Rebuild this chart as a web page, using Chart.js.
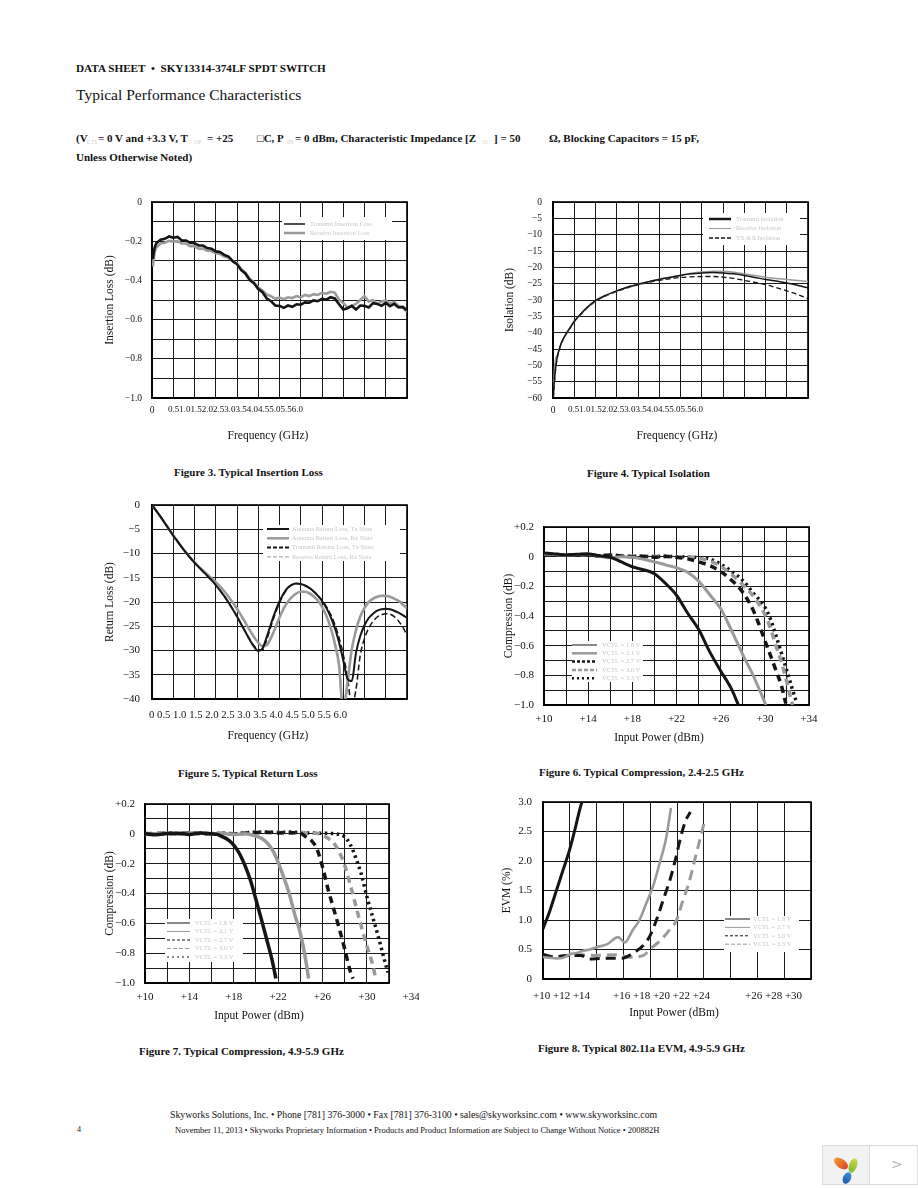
<!DOCTYPE html>
<html>
<head>
<meta charset="utf-8">
<script src="https://cdn.jsdelivr.net/npm/chart.js@4.4.1/dist/chart.umd.min.js"></script>
<style>
body { margin: 0; background: #fff; }
#page { position: relative; width: 918px; height: 1188px; overflow: hidden; font-family: "Liberation Serif", "Times New Roman", serif; color: #111; }
.t { position: absolute; white-space: nowrap; line-height: 1; }
.b { font-weight: bold; }
.sub { position: absolute; color: #d0d0d0; font-size: 6px; line-height: 1; }
canvas { position: absolute; }
</style>
</head>
<body>
<div id="page">
  <div class="t b" style="left:76px;top:63px;font-size:11.2px;">DATA SHEET &nbsp;•&nbsp; SKY13314-374LF SPDT SWITCH</div>
  <div class="t" style="left:76px;top:87px;font-size:15.5px;">Typical Performance Characteristics</div>

  <div class="t b" style="left:76px;top:133px;font-size:11px;">(V</div>
  <div class="sub" style="left:87px;top:139px;">CTL</div>
  <div class="t b" style="left:98px;top:133px;font-size:11px;">= 0 V and +3.3 V, T</div>
  <div class="sub" style="left:194px;top:139px;">OP</div>
  <div class="t b" style="left:207px;top:133px;font-size:11px;">= +25</div>
  <div class="t b" style="left:257px;top:133px;font-size:11px;">□C, P</div>
  <div class="sub" style="left:287px;top:139px;">IN</div>
  <div class="t b" style="left:295px;top:133px;font-size:11px;">= 0 dBm, Characteristic Impedance [Z</div>
  <div class="sub" style="left:483px;top:139px;">O</div>
  <div class="t b" style="left:494px;top:133px;font-size:11px;">] = 50</div>
  <div class="t b" style="left:549px;top:133px;font-size:11px;">Ω, Blocking Capacitors = 15 pF,</div>
  <div class="t b" style="left:76px;top:152px;font-size:11px;">Unless Otherwise Noted)</div>

  <canvas id="fig3"></canvas>
  <canvas id="fig4"></canvas>
  <canvas id="fig5"></canvas>
  <canvas id="fig6"></canvas>
  <canvas id="fig7"></canvas>
  <canvas id="fig8"></canvas>

  <div class="t b" style="left:174px;top:467px;font-size:11px;">Figure 3. Typical Insertion Loss</div>
  <div class="t b" style="left:587px;top:468px;font-size:11px;">Figure 4. Typical Isolation</div>
  <div class="t b" style="left:178px;top:768px;font-size:11px;">Figure 5. Typical Return Loss</div>
  <div class="t b" style="left:539px;top:767px;font-size:11px;">Figure 6. Typical Compression, 2.4-2.5 GHz</div>
  <div class="t b" style="left:139px;top:1046px;font-size:11px;">Figure 7. Typical Compression, 4.9-5.9 GHz</div>
  <div class="t b" style="left:538px;top:1043px;font-size:11px;">Figure 8. Typical 802.11a EVM, 4.9-5.9 GHz</div>

  <div class="t" style="left:170px;top:1110px;font-size:9.8px;">Skyworks Solutions, Inc. • Phone [781] 376-3000 • Fax [781] 376-3100 • sales@skyworksinc.com • www.skyworksinc.com</div>
  <div class="t" style="left:77px;top:1126px;font-size:8px;">4</div>
  <div class="t" style="left:175px;top:1126px;font-size:8.5px;">November 11, 2013 • Skyworks Proprietary Information • Products and Product Information are Subject to Change Without Notice • 200882H</div>

  <div style="position:absolute;left:822px;top:1145px;width:96px;height:40px;border:1px solid #dcdcdc;box-sizing:border-box;background:#fff;">
    <div style="position:absolute;left:0;top:0;width:46px;height:38px;background:#f2f2f2;border-right:1px solid #dcdcdc;">
      <div style="position:absolute;left:10px;top:13px;width:16px;height:9px;border-radius:50%;background:linear-gradient(90deg,#f0a030,#e0402a);transform:rotate(35deg);"></div>
      <div style="position:absolute;left:26px;top:12px;width:8px;height:15px;border-radius:50%;background:linear-gradient(180deg,#c8d850,#80b830);transform:rotate(20deg);"></div>
      <div style="position:absolute;left:20px;top:26px;width:8px;height:12px;border-radius:50%;background:linear-gradient(180deg,#3a90d8,#1a5cb0);transform:rotate(25deg);"></div>
    </div>
    <div style="position:absolute;left:68px;top:10px;font-family:'DejaVu Sans',sans-serif;font-size:14px;color:#b8b8b8;">&gt;</div>
  </div>
</div>

<script>
// Figure 3 - insertion loss
const ilFreq = [0.02,0.06,0.1,0.2,0.3,0.4,0.5,0.6,0.7,0.8,0.9,1.0,1.1,1.2,1.3,1.4,1.5,1.6,1.7,1.8,1.9,2.0,2.1,2.2,2.3,2.4,2.5,2.6,2.7,2.8,2.9,3.0,3.1,3.2,3.3,3.4,3.5,3.6,3.7,3.8,3.9,4.0,4.1,4.2,4.3,4.4,4.5,4.6,4.7,4.8,4.9,5.0,5.1,5.2,5.3,5.4,5.5,5.6,5.7,5.8,5.9,6.0];
const ilTransmit = [-0.29,-0.235,-0.21,-0.192,-0.188,-0.176,-0.182,-0.178,-0.195,-0.196,-0.208,-0.21,-0.222,-0.222,-0.235,-0.238,-0.252,-0.255,-0.27,-0.278,-0.302,-0.318,-0.348,-0.366,-0.398,-0.415,-0.444,-0.46,-0.492,-0.506,-0.528,-0.53,-0.54,-0.528,-0.535,-0.522,-0.524,-0.512,-0.514,-0.502,-0.506,-0.494,-0.498,-0.486,-0.492,-0.522,-0.548,-0.542,-0.53,-0.548,-0.528,-0.53,-0.538,-0.516,-0.52,-0.53,-0.515,-0.532,-0.52,-0.538,-0.535,-0.552];
const ilReceive = [-0.33,-0.255,-0.232,-0.212,-0.208,-0.198,-0.202,-0.2,-0.212,-0.212,-0.225,-0.226,-0.238,-0.238,-0.248,-0.25,-0.262,-0.265,-0.278,-0.284,-0.302,-0.314,-0.342,-0.36,-0.392,-0.41,-0.436,-0.452,-0.472,-0.48,-0.494,-0.488,-0.496,-0.486,-0.49,-0.48,-0.486,-0.474,-0.48,-0.47,-0.474,-0.464,-0.468,-0.458,-0.462,-0.498,-0.515,-0.538,-0.53,-0.52,-0.5,-0.48,-0.508,-0.5,-0.52,-0.508,-0.502,-0.518,-0.51,-0.53,-0.54,-0.56];

// Figure 4 - isolation
const isoFreq = [0.01,0.03,0.06,0.1,0.15,0.2,0.3,0.4,0.5,0.6,0.8,1.0,1.25,1.5,1.75,2.0,2.25,2.5,2.75,3.0,3.25,3.5,3.75,4.0,4.25,4.5,4.75,5.0,5.25,5.5,5.75,6.0];
const isoTransmit = [-59,-55,-51,-47.5,-45,-43,-40.5,-38.5,-36.5,-35,-32.3,-30.2,-28.5,-27.2,-26.1,-25.2,-24.4,-23.7,-23.1,-22.5,-22.0,-21.7,-21.6,-21.7,-22.0,-22.5,-23.1,-23.7,-24.2,-24.8,-25.5,-26.3];
const isoReceive = [-58,-52,-48,-47,-45,-43,-40.6,-38.6,-36.6,-35.1,-32.4,-30.3,-28.6,-27.2,-26.1,-25.2,-24.4,-23.6,-23.0,-22.4,-21.8,-21.4,-21.2,-21.2,-21.5,-22.0,-22.5,-23.0,-23.4,-23.7,-24.0,-24.3];
const isoTxRx = [-60,-56,-51.5,-47.8,-45.2,-43.2,-40.7,-38.7,-36.7,-35.2,-32.5,-30.4,-28.7,-27.4,-26.3,-25.4,-24.6,-24.0,-23.5,-23.1,-22.9,-22.8,-22.8,-23.0,-23.4,-24.0,-24.6,-25.3,-26.2,-27.2,-28.3,-29.6];

// Figure 5 - return loss, 0 to 6 GHz every 0.1 GHz
const rlFreq = [0,0.1,0.2,0.3,0.4,0.5,0.6,0.7,0.8,0.9,1.0,1.1,1.2,1.3,1.4,1.5,1.6,1.7,1.8,1.9,2.0,2.1,2.2,2.3,2.4,2.5,2.6,2.7,2.8,2.9,3.0,3.1,3.2,3.3,3.4,3.5,3.6,3.7,3.8,3.9,4.0,4.1,4.2,4.3,4.4,4.5,4.6,4.7,4.8,4.9,5.0,5.1,5.2,5.3,5.4,5.5,5.6,5.7,5.8,5.9,6.0];
const rlAntTx = [0,-1.2,-2.4,-3.7,-5.0,-6.3,-7.5,-8.7,-9.8,-10.9,-11.9,-12.8,-13.7,-14.6,-15.5,-16.5,-17.6,-18.8,-20.1,-21.5,-23.0,-24.6,-26.2,-27.8,-29.2,-30.1,-29.6,-27.2,-24.5,-22.0,-19.9,-18.2,-17.0,-16.4,-16.2,-16.3,-16.6,-17.1,-17.8,-18.7,-19.8,-21.2,-23.0,-25.3,-28.3,-32.0,-35.8,-36.3,-30.5,-27.0,-24.8,-23.3,-22.4,-21.8,-21.5,-21.4,-21.5,-21.8,-22.2,-22.7,-23.3];
const rlAntRx = [0,-1.2,-2.4,-3.7,-5.0,-6.3,-7.5,-8.7,-9.8,-10.8,-11.8,-12.7,-13.5,-14.3,-15.1,-15.9,-16.8,-17.8,-18.9,-20.1,-21.4,-22.8,-24.3,-25.8,-27.2,-28.4,-29.1,-28.9,-27.4,-25.4,-23.2,-21.3,-19.9,-18.9,-18.2,-17.9,-17.9,-18.2,-18.8,-19.7,-21.0,-22.8,-25.2,-28.5,-33.0,-42.5,-36.5,-29.8,-25.8,-23.0,-21.2,-20.0,-19.3,-18.9,-18.7,-18.7,-18.9,-19.3,-19.8,-20.5,-21.3];
const rlTxTx = [0,-1.2,-2.4,-3.7,-5.0,-6.3,-7.5,-8.7,-9.8,-10.9,-11.9,-12.8,-13.7,-14.6,-15.5,-16.5,-17.6,-18.8,-20.1,-21.5,-23.0,-24.6,-26.2,-27.7,-29.0,-29.8,-29.9,-27.8,-25.0,-22.4,-20.2,-18.4,-17.1,-16.4,-16.2,-16.3,-16.6,-17.1,-17.8,-18.6,-19.6,-20.9,-22.5,-24.6,-27.3,-30.8,-35.5,-41.5,-38.0,-31.0,-27.5,-25.4,-24.0,-23.1,-22.6,-22.4,-22.5,-23.0,-23.9,-25.2,-26.8];
const rlRxRx = [0,-1.2,-2.4,-3.7,-5.0,-6.3,-7.5,-8.7,-9.8,-10.8,-11.8,-12.7,-13.5,-14.3,-15.1,-15.9,-16.8,-17.8,-18.9,-20.1,-21.4,-22.8,-24.3,-25.8,-27.2,-28.4,-29.0,-28.8,-27.3,-25.3,-23.2,-21.3,-19.9,-18.9,-18.2,-17.9,-17.9,-18.2,-18.8,-19.7,-21.0,-22.8,-25.2,-28.6,-32.0,-41.0,-38.0,-30.5,-26.0,-23.2,-21.4,-20.2,-19.5,-19.1,-18.9,-18.9,-19.0,-19.2,-19.6,-20.0,-20.6];

// Figure 6 - compression 2.4-2.5 GHz (input power dBm, compression dB)
const c24x18 = [10,11,12,13,14,15,16,17,18,19,20,21,22,23,24,25,26,27,27.6];
const c24y18 = [0.025,0.018,0.012,0.016,0.018,0.006,-0.004,-0.035,-0.068,-0.088,-0.115,-0.18,-0.26,-0.38,-0.49,-0.64,-0.77,-0.895,-1.0];
const c24x21 = [10,11,12,13,14,15,16,17,18,19,20,21,22,23,24,25,26,27,28,29,30.1];
const c24y21 = [0.02,0.015,0.01,0.014,0.02,0.002,-0.008,0.0,-0.004,-0.018,-0.035,-0.055,-0.075,-0.105,-0.165,-0.255,-0.35,-0.5,-0.66,-0.81,-1.0];
const c24x27 = [10,11,12,13,14,15,16,17,18,19,20,21,22,23,24,25,26,27,28,29,30,31,31.5,31.9];
const c24y27 = [0.02,0.014,0.01,0.012,0.016,0.004,0.012,0.004,0.0,0.002,-0.004,0.002,-0.004,-0.015,-0.035,-0.06,-0.1,-0.16,-0.24,-0.37,-0.565,-0.765,-0.87,-0.99];
const c24x30 = [10,11,12,13,14,15,16,17,18,19,20,21,22,23,24,25,26,27,28,29,30,30.5,31,31.5,32,32.5];
const c24y30 = [0.018,0.014,0.012,0.01,0.014,0.004,0.008,0.004,0.002,0.0,0.002,0.0,-0.002,0.0,-0.01,-0.03,-0.065,-0.12,-0.19,-0.27,-0.39,-0.48,-0.6,-0.71,-0.85,-1.0];
const c24x33 = [10,11,12,13,14,15,16,17,18,19,20,21,22,23,24,25,26,27,28,29,30,30.5,31,31.5,32,32.5,32.9];
const c24y33 = [0.02,0.016,0.01,0.012,0.016,0.006,0.01,0.004,0.002,0.002,0.0,0.002,0.0,-0.002,-0.006,-0.015,-0.05,-0.1,-0.16,-0.25,-0.34,-0.42,-0.53,-0.65,-0.77,-0.895,-0.99];

// Figure 7 - compression 4.9-5.9 GHz
const c59x18 = [10,11,12,13,14,15,16,16.5,17,17.5,18,18.5,19,19.5,20,20.5,21,21.5,21.8];
const c59y18 = [0,-0.006,0.002,0.004,-0.004,0.006,0.0,-0.004,-0.02,-0.04,-0.075,-0.13,-0.21,-0.31,-0.44,-0.575,-0.715,-0.86,-0.97];
const c59x21 = [10,11,12,13,14,15,16,17,18,19,19.5,20,20.5,21,21.5,22,22.5,23,23.5,24,24.5,24.75];
const c59y21 = [-0.004,0.0,0.004,-0.002,0.006,0.004,0.0,0.002,-0.004,0.0,-0.005,-0.015,-0.03,-0.06,-0.11,-0.19,-0.29,-0.4,-0.54,-0.665,-0.85,-0.97];
const c59x27 = [10,11,12,13,14,15,16,17,18,19,20,21,22,23,24,24.5,25,25.5,26,26.5,27,27.5,28,28.5,28.75];
const c59y27 = [-0.004,0.002,0.004,0.0,0.006,0.002,0.0,0.002,-0.002,0.004,0.008,0.01,0.006,0.008,0.004,-0.02,-0.045,-0.1,-0.22,-0.37,-0.5,-0.63,-0.77,-0.92,-0.97];
const c59x30 = [10,11,12,13,14,15,16,17,18,19,20,21,22,23,24,25,25.5,26,26.5,27,27.5,28,28.5,29,29.5,30,30.5,30.8];
const c59y30 = [0.0,0.004,-0.002,0.004,0.006,0.002,0.0,0.004,0.002,0.006,0.01,0.008,0.01,0.006,0.01,0.004,0.004,-0.01,-0.03,-0.06,-0.12,-0.21,-0.34,-0.48,-0.62,-0.75,-0.87,-0.97];
const c59x33 = [10,11,12,13,14,15,16,17,18,19,20,21,22,23,24,25,26,27,27.5,28,28.5,29,29.5,30,30.5,31,31.5,31.9];
const c59y33 = [0.002,0.0,0.004,0.002,0.008,0.004,0.002,0.004,0.0,0.006,0.012,0.01,0.01,0.012,0.008,0.006,0.004,0.002,-0.004,-0.02,-0.07,-0.16,-0.27,-0.42,-0.55,-0.68,-0.82,-0.93];

// Figure 8 - EVM (%)
const evmX18 = [10,10.5,11,11.5,12,12.4,12.75,12.9];
const evmY18 = [0.85,1.15,1.5,1.85,2.2,2.55,2.88,3.0];
const evmX27 = [10,10.5,11,11.5,12,12.5,13,13.5,14,14.8,15.6,16.1,16.7,17.2,17.7,18.2,18.7,19.2,19.55];
const evmY27 = [0.37,0.36,0.35,0.36,0.42,0.44,0.48,0.5,0.54,0.59,0.71,0.62,0.83,1.0,1.28,1.56,1.96,2.4,2.9];
const evmX30 = [10,10.8,11.8,12.8,13.5,14.5,15.9,16.8,17.5,18,18.5,19,19.5,19.9,20.25,20.6,21];
const evmY30 = [0.42,0.37,0.4,0.4,0.34,0.35,0.35,0.45,0.57,0.74,1.02,1.36,1.7,2.04,2.38,2.66,2.83];
const evmX33 = [10,11,12,13,14,15.5,16.5,17.5,18,18.75,19.5,19.95,20.4,20.9,21.35,21.85,22];
const evmY33 = [0.4,0.38,0.4,0.41,0.4,0.41,0.37,0.4,0.51,0.65,0.85,0.99,1.3,1.64,2.04,2.49,2.63];

// tick labels
const ilYTicks = [0, -0.2, -0.4, -0.6, -0.8, -1.0];
const ilYLabels = ['0', '\u22120.2', '\u22120.4', '\u22120.6', '\u22120.8', '\u22121.0'];
const isoYTicks = [0, -5, -10, -15, -20, -25, -30, -35, -40, -45, -50, -55, -60];
const isoYLabels = isoYTicks.map(v => v === 0 ? '0' : '\u2212' + (-v));
const rlYTicks = [0, -5, -10, -15, -20, -25, -30, -35, -40];
const rlYLabels = rlYTicks.map(v => v === 0 ? '0' : '\u2212' + (-v));
const freqCramped = '0.51.01.52.02.53.03.54.04.55.05.56.0';
const freqRow = '0 0.5 1.0 1.5 2.0 2.5 3.0 3.5 4.0 4.5 5.0 5.5 6.0';
const cmpYTicks = [0.2, 0, -0.2, -0.4, -0.6, -0.8, -1.0];
const cmpYLabels = ['+0.2', '0', '\u22120.2', '\u22120.4', '\u22120.6', '\u22120.8', '\u22121.0'];
const pinTicks = [10, 14, 18, 22, 26, 30, 34];
const pinLabels = ['+10', '+14', '+18', '+22', '+26', '+30', '+34'];
const evmYTicks = [0, 0.5, 1.0, 1.5, 2.0, 2.5, 3.0];
const evmYLabels = ['0', '0.5', '1.0', '1.5', '2.0', '2.5', '3.0'];
const evmXGroups = ['+10 +12 +14', '+16 +18 +20 +22 +24', '+26 +28 +30'];
const vctl = ['1.8', '2.1', '2.7', '3.0', '3.3'];

const BLACK = '#151515';
const GRAY = '#9a9a9a';
const serif = '"Liberation Serif", "Times New Roman", serif';

const pts = (xs, ys) => xs.map((x, i) => ({ x: x, y: ys[i] }));

// draws tick labels, axis titles
const axisText = {
    id: 'axisText',
    afterDraw(chart, args, o) {
        if (!o.yTicks) return;
        const ctx = chart.ctx, ca = chart.chartArea;
        const xs = chart.scales.x, ys = chart.scales.y;
        ctx.save();
        ctx.fillStyle = '#111';
        ctx.textBaseline = 'middle';
        ctx.font = o.tickFont;
        ctx.textAlign = 'right';
        o.yTicks.forEach((v, i) => ctx.fillText(o.yLabels[i], ca.left - o.yGap, ys.getPixelForValue(v)));
        const xy = ca.bottom + o.xGap;
        if (o.xTicks) {
            ctx.textAlign = 'center';
            o.xTicks.forEach((v, i) => ctx.fillText(o.xLabels[i], xs.getPixelForValue(v), xy));
        }
        (o.xRuns || []).forEach(r => {
            ctx.font = r.font || o.tickFont;
            ctx.textAlign = r.align || 'left';
            if (r.maxWidth) ctx.fillText(r.text, ca.left + r.dx, xy, r.maxWidth);
            else ctx.fillText(r.text, ca.left + r.dx, xy);
        });
        ctx.font = o.titleFont;
        ctx.textAlign = 'center';
        ctx.fillText(o.xTitle, ca.left + o.xTitleDx, ca.bottom + o.xTitleGap);
        ctx.translate(ca.left - o.yTitleGap, (ca.top + ca.bottom) / 2);
        ctx.rotate(-Math.PI / 2);
        ctx.fillText(o.yTitle, 0, 0);
        ctx.restore();
    }
};

// white legend box inside the plot, like the data sheet
const boxLegend = {
    id: 'boxLegend',
    beforeDatasetsDraw(chart) {
        const ctx = chart.ctx, ca = chart.chartArea;
        ctx.save();
        ctx.strokeStyle = '#000';
        ctx.lineWidth = 1.6;
        ctx.strokeRect(ca.left, ca.top, ca.right - ca.left, ca.bottom - ca.top);
        ctx.restore();
    },
    afterDraw(chart, args, o) {
        if (!o.box) return;
        const ctx = chart.ctx, ca = chart.chartArea;
        const bx = ca.left + o.box[0], by = ca.top + o.box[1];
        ctx.save();
        ctx.fillStyle = '#fff';
        ctx.fillRect(bx, by, o.box[2], o.box[3]);
        chart.data.datasets.forEach((ds, i) => {
            const y = ca.top + o.row0 + i * o.rowH;
            ctx.strokeStyle = ds.borderColor;
            ctx.lineWidth = o.widths[i];
            ctx.setLineDash(o.dashes[i]);
            ctx.beginPath();
            ctx.moveTo(ca.left + o.line[0], y);
            ctx.lineTo(ca.left + o.line[1], y);
            ctx.stroke();
            ctx.fillStyle = '#c6c6c6';
            ctx.font = o.font;
            ctx.textAlign = 'left';
            ctx.textBaseline = 'middle';
            ctx.fillText(ds.label, ca.left + o.textX, y);
        });
        ctx.restore();
    }
};

Chart.register(axisText, boxLegend);

const M = { l: 60, t: 12, r: 30, b: 50 };

function sheetChart(id, plot, xs, ys, datasets, text, legend) {
    const cv = document.getElementById(id);
    cv.width = plot.w + M.l + M.r;
    cv.height = plot.h + M.t + M.b;
    cv.style.left = (plot.l - M.l) + 'px';
    cv.style.top = (plot.t - M.t) + 'px';
    const axis = (s) => ({
        type: 'linear',
        min: s.min,
        max: s.max,
        ticks: { display: false, stepSize: s.step, maxTicksLimit: 100, autoSkip: false },
        grid: { color: '#1a1a1a', lineWidth: 1, drawTicks: false },
        border: { display: true, color: '#000', width: 1.6 }
    });
    return new Chart(cv, {
        type: 'line',
        data: { datasets: datasets },
        options: {
            responsive: false,
            animation: false,
            devicePixelRatio: 1,
            layout: { padding: { left: M.l, top: M.t, right: M.r, bottom: M.b } },
            elements: { point: { radius: 0 } },
            scales: { x: axis(xs), y: axis(ys) },
            plugins: {
                legend: { display: false },
                tooltip: { enabled: false },
                axisText: text,
                boxLegend: legend
            }
        }
    });
}

const tickFontS = '9.5px ' + serif;
const tickFont = '11px ' + serif;
const titleFont = '11.5px ' + serif;
const legendFont = '6.5px ' + serif;

// Figure 3
sheetChart('fig3', { l: 152, t: 202, w: 255, h: 196 },
    { min: 0, max: 6, step: 0.5 }, { min: -1, max: 0, step: 0.1 },
    [
        { label: 'Transmit Insertion Loss', data: pts(ilFreq, ilTransmit), borderColor: BLACK, borderWidth: 2.6, tension: 0 },
        { label: 'Receive Insertion Loss', data: pts(ilFreq, ilReceive), borderColor: GRAY, borderWidth: 2.6, tension: 0 }
    ],
    {
        tickFont: tickFontS, titleFont: titleFont, yTicks: ilYTicks, yLabels: ilYLabels, yGap: 10, xGap: 12,
        xRuns: [{ text: '0', dx: 0, align: 'center' }, { text: freqCramped, dx: 16, maxWidth: 140, font: '9px ' + serif }],
        xTitle: 'Frequency (GHz)', xTitleDx: 116, xTitleGap: 38, yTitle: 'Insertion Loss (dB)', yTitleGap: 42
    },
    { box: [130, 15, 110, 23], line: [132, 153], textX: 158, row0: 22, rowH: 9, widths: [1.5, 2.5], dashes: [[], []], font: legendFont });

// Figure 4
sheetChart('fig4', { l: 553, t: 202, w: 255, h: 196 },
    { min: 0, max: 6, step: 0.5 }, { min: -60, max: 0, step: 5 },
    [
        { label: 'Transmit Isolation', data: pts(isoFreq, isoTransmit), borderColor: BLACK, borderWidth: 1.5, cubicInterpolationMode: 'monotone' },
        { label: 'Receive Isolation', data: pts(isoFreq, isoReceive), borderColor: GRAY, borderWidth: 1.5, cubicInterpolationMode: 'monotone' },
        { label: 'TX-RX Isolation', data: pts(isoFreq, isoTxRx), borderColor: BLACK, borderWidth: 1.3, borderDash: [5, 3], cubicInterpolationMode: 'monotone' }
    ],
    {
        tickFont: tickFontS, titleFont: titleFont, yTicks: isoYTicks, yLabels: isoYLabels, yGap: 11, xGap: 12,
        xRuns: [{ text: '0', dx: 0, align: 'center' }, { text: freqCramped, dx: 15, maxWidth: 140, font: '9px ' + serif }],
        xTitle: 'Frequency (GHz)', xTitleDx: 124, xTitleGap: 38, yTitle: 'Isolation (dB)', yTitleGap: 43
    },
    { box: [150, 11, 97, 32], line: [156, 178], textX: 183, row0: 17, rowH: 9.5, widths: [2.5, 1, 1.5], dashes: [[], [], [4, 2]], font: legendFont });

// Figure 5
sheetChart('fig5', { l: 152, t: 505, w: 255, h: 194 },
    { min: 0, max: 6, step: 0.5 }, { min: -40, max: 0, step: 5 },
    [
        { label: 'Antenna Return Loss, Tx State', data: pts(rlFreq, rlAntTx), borderColor: BLACK, borderWidth: 2, cubicInterpolationMode: 'monotone' },
        { label: 'Antenna Return Loss, Rx State', data: pts(rlFreq, rlAntRx), borderColor: GRAY, borderWidth: 2.6, cubicInterpolationMode: 'monotone' },
        { label: 'Transmit Return Loss, Tx State', data: pts(rlFreq, rlTxTx), borderColor: BLACK, borderWidth: 1.5, borderDash: [6, 3], cubicInterpolationMode: 'monotone' },
        { label: 'Receive Return Loss, Rx State', data: pts(rlFreq, rlRxRx), borderColor: GRAY, borderWidth: 1, borderDash: [6, 3], cubicInterpolationMode: 'monotone' }
    ],
    {
        tickFont: tickFont, titleFont: titleFont, yTicks: rlYTicks, yLabels: rlYLabels, yGap: 12, xGap: 16,
        xRuns: [{ text: freqRow, dx: -3, maxWidth: 198 }],
        xTitle: 'Frequency (GHz)', xTitleDx: 116, xTitleGap: 37, yTitle: 'Return Loss (dB)', yTitleGap: 42
    },
    { box: [111, 20, 137, 36], line: [115, 137], textX: 140, row0: 24, rowH: 9.3, widths: [2, 2.5, 2, 1], dashes: [[], [], [4, 2], [4, 2]], font: legendFont });

// Figure 6
sheetChart('fig6', { l: 544, t: 527, w: 265, h: 178 },
    { min: 10, max: 34, step: 2 }, { min: -1, max: 0.2, step: 0.1 },
    [
        { label: 'VCTL = ' + vctl[0] + ' V', data: pts(c24x18, c24y18), borderColor: BLACK, borderWidth: 3, cubicInterpolationMode: 'monotone' },
        { label: 'VCTL = ' + vctl[1] + ' V', data: pts(c24x21, c24y21), borderColor: GRAY, borderWidth: 3, cubicInterpolationMode: 'monotone' },
        { label: 'VCTL = ' + vctl[2] + ' V', data: pts(c24x27, c24y27), borderColor: BLACK, borderWidth: 3.5, borderDash: [7, 5], cubicInterpolationMode: 'monotone' },
        { label: 'VCTL = ' + vctl[3] + ' V', data: pts(c24x30, c24y30), borderColor: GRAY, borderWidth: 3.5, borderDash: [7, 5], cubicInterpolationMode: 'monotone' },
        { label: 'VCTL = ' + vctl[4] + ' V', data: pts(c24x33, c24y33), borderColor: BLACK, borderWidth: 3.5, borderDash: [2.5, 3.5], cubicInterpolationMode: 'monotone' }
    ],
    {
        tickFont: tickFont, titleFont: titleFont, yTicks: cmpYTicks, yLabels: cmpYLabels, yGap: 10, xGap: 14,
        xTicks: pinTicks, xLabels: pinLabels,
        xTitle: 'Input Power (dBm)', xTitleDx: 115, xTitleGap: 33, yTitle: 'Compression (dB)', yTitleGap: 35
    },
    { box: [28, 114, 71, 41], line: [28, 53], textX: 58, row0: 118, rowH: 8.3, widths: [1, 2.5, 2.5, 2.5, 2.5], dashes: [[], [], [3, 2], [4, 2], [2, 3]], font: legendFont });

// Figure 7
sheetChart('fig7', { l: 145, t: 804, w: 244, h: 179 },
    { min: 10, max: 32, step: 2 }, { min: -1, max: 0.2, step: 0.1 },
    [
        { label: 'VCTL = ' + vctl[0] + ' V', data: pts(c59x18, c59y18), borderColor: BLACK, borderWidth: 3.5, cubicInterpolationMode: 'monotone' },
        { label: 'VCTL = ' + vctl[1] + ' V', data: pts(c59x21, c59y21), borderColor: GRAY, borderWidth: 3.5, cubicInterpolationMode: 'monotone' },
        { label: 'VCTL = ' + vctl[2] + ' V', data: pts(c59x27, c59y27), borderColor: BLACK, borderWidth: 3.5, borderDash: [7, 5], cubicInterpolationMode: 'monotone' },
        { label: 'VCTL = ' + vctl[3] + ' V', data: pts(c59x30, c59y30), borderColor: GRAY, borderWidth: 3.5, borderDash: [7, 5], cubicInterpolationMode: 'monotone' },
        { label: 'VCTL = ' + vctl[4] + ' V', data: pts(c59x33, c59y33), borderColor: BLACK, borderWidth: 3.5, borderDash: [2.5, 3.5], cubicInterpolationMode: 'monotone' }
    ],
    {
        tickFont: tickFont, titleFont: titleFont, yTicks: cmpYTicks, yLabels: cmpYLabels, yGap: 10, xGap: 14,
        xTicks: pinTicks, xLabels: pinLabels,
        xTitle: 'Input Power (dBm)', xTitleDx: 114, xTitleGap: 33, yTitle: 'Compression (dB)', yTitleGap: 35
    },
    { box: [20, 115, 78, 43], line: [22, 45], textX: 50, row0: 119, rowH: 8.5, widths: [1, 1, 1, 1, 1], dashes: [[], [], [3, 2], [4, 2], [2, 3]], font: legendFont });

// Figure 8
sheetChart('fig8', { l: 543, t: 802, w: 268, h: 177 },
    { min: 10, max: 30, step: 2 }, { min: 0, max: 3, step: 0.5 },
    [
        { label: 'VCTL = ' + vctl[0] + ' V', data: pts(evmX18, evmY18), borderColor: BLACK, borderWidth: 3, cubicInterpolationMode: 'monotone' },
        { label: 'VCTL = ' + vctl[2] + ' V', data: pts(evmX27, evmY27), borderColor: GRAY, borderWidth: 2.6, cubicInterpolationMode: 'monotone' },
        { label: 'VCTL = ' + vctl[3] + ' V', data: pts(evmX30, evmY30), borderColor: BLACK, borderWidth: 3, borderDash: [10, 6], cubicInterpolationMode: 'monotone' },
        { label: 'VCTL = ' + vctl[4] + ' V', data: pts(evmX33, evmY33), borderColor: GRAY, borderWidth: 3, borderDash: [10, 6], cubicInterpolationMode: 'monotone' }
    ],
    {
        tickFont: tickFont, titleFont: titleFont, yTicks: evmYTicks, yLabels: evmYLabels, yGap: 11, xGap: 17,
        xRuns: [{ text: evmXGroups[0], dx: -10 }, { text: evmXGroups[1], dx: 70 }, { text: evmXGroups[2], dx: 202 }],
        xTitle: 'Input Power (dBm)', xTitleDx: 131, xTitleGap: 34, yTitle: 'EVM (%)', yTitleGap: 36
    },
    { box: [181, 114, 75, 36], line: [182, 207], textX: 210, row0: 117, rowH: 8.4, widths: [1, 1, 1, 1], dashes: [[], [], [3, 2], [4, 2]], font: legendFont });
</script>
</body>
</html>
